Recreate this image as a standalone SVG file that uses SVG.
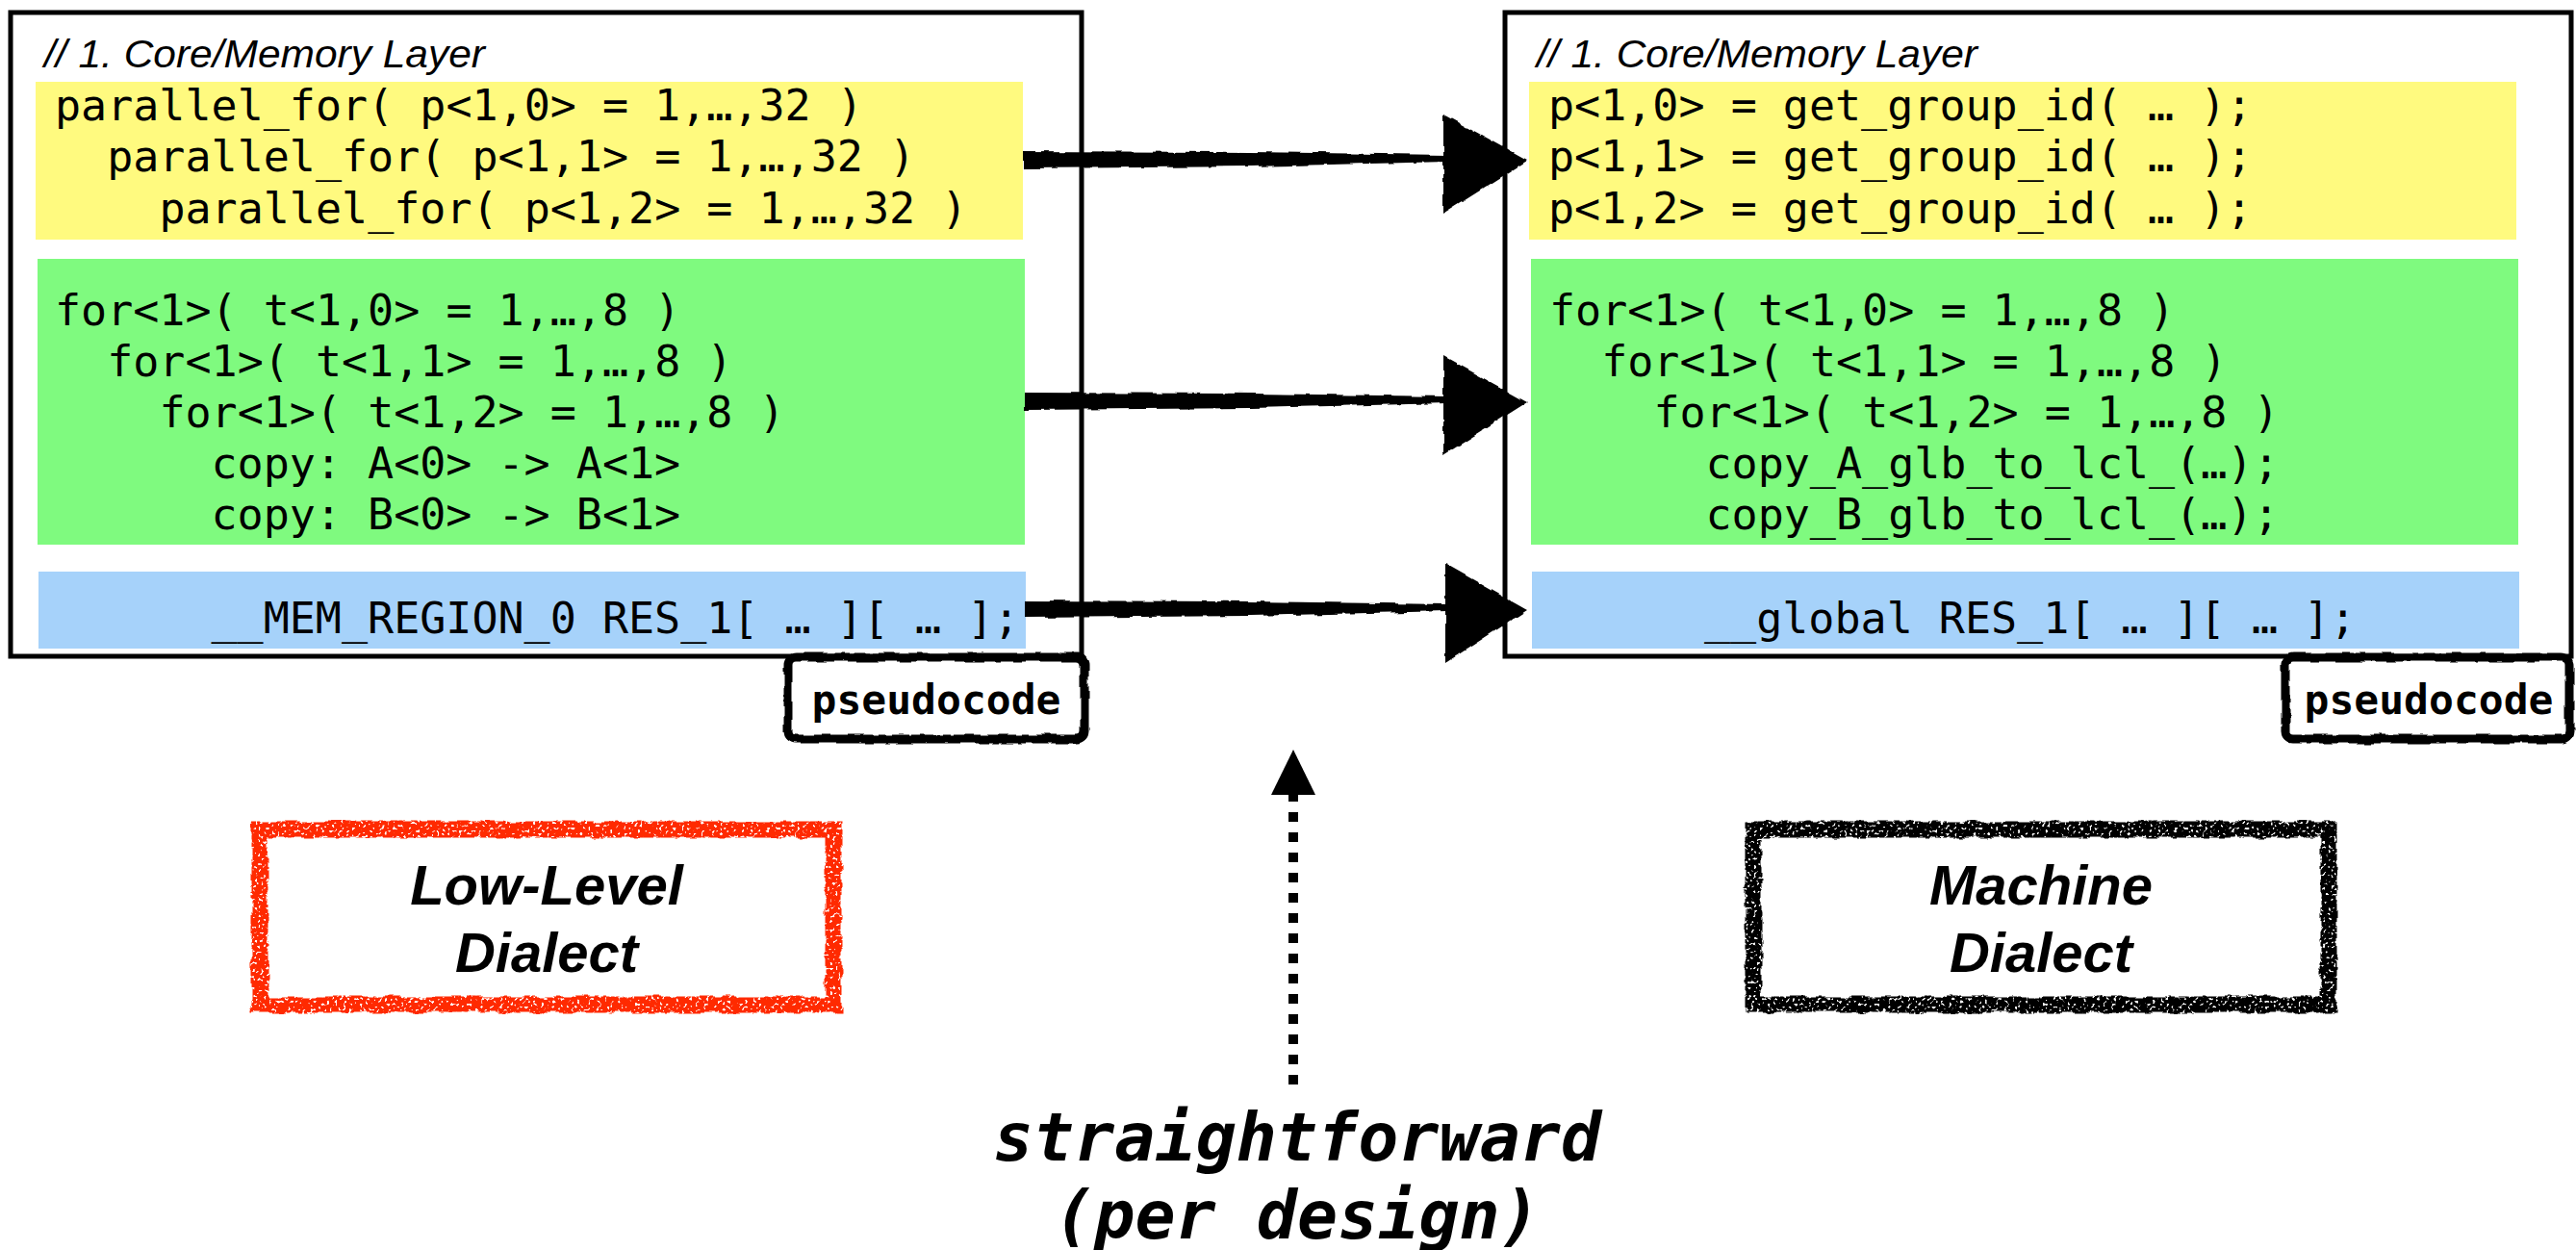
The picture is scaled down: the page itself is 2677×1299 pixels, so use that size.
<svg xmlns="http://www.w3.org/2000/svg" width="2677" height="1299" viewBox="0 0 2677 1299">
<style>
.panel{fill:#fff;stroke:#000;stroke-width:5}
.yel{fill:#FFFA7F}
.grn{fill:#7FFA7F}
.blu{fill:#A6D2FA}
.code{font-family:"DejaVu Sans Mono","Liberation Mono",monospace;font-size:45px;fill:#000}
.cmt{font-family:"Liberation Sans",Arial,sans-serif;font-style:italic;font-size:41px;fill:#000}
.tag{fill:#fff;stroke:#000;stroke-width:9}
.tagtxt{font-family:"DejaVu Sans Mono","Liberation Mono",monospace;font-weight:bold;font-size:43px;fill:#000;text-anchor:middle}
.dial{font-family:"Liberation Sans",Arial,sans-serif;font-weight:bold;font-style:italic;font-size:58px;fill:#000;text-anchor:middle}
.sf{font-family:"DejaVu Sans Mono","Liberation Mono",monospace;font-weight:bold;font-style:italic;font-size:70px;fill:#000;text-anchor:middle}
</style>
<defs>
<filter id="rough" x="-10%" y="-10%" width="120%" height="120%">
<feTurbulence type="fractalNoise" baseFrequency="0.06" numOctaves="2" seed="4" result="n"/>
<feDisplacementMap in="SourceGraphic" in2="n" scale="5" xChannelSelector="R" yChannelSelector="G"/>
</filter>
<filter id="grunge" x="-5%" y="-5%" width="110%" height="110%">
<feTurbulence type="fractalNoise" baseFrequency="0.07" numOctaves="2" seed="9" result="n"/>
<feDisplacementMap in="SourceGraphic" in2="n" scale="7" xChannelSelector="R" yChannelSelector="G" result="d"/>
<feTurbulence type="fractalNoise" baseFrequency="0.35" numOctaves="1" seed="2" result="s"/>
<feColorMatrix in="s" type="matrix" values="0 0 0 0 0  0 0 0 0 0  0 0 0 0 0  -12 0 0 0 8.2" result="m"/>
<feComposite in="d" in2="m" operator="in"/>
</filter>
</defs>

<g id="left-panel">
<rect class="panel" x="11" y="13" width="1113" height="669"/>
<text class="cmt" x="46" y="70" textLength="458" lengthAdjust="spacingAndGlyphs">// 1. Core/Memory Layer</text>
<rect class="yel" x="37" y="85" width="1026" height="164"/>
<rect class="grn" x="39" y="269" width="1026" height="297"/>
<rect class="blu" x="40" y="594" width="1026" height="80"/>
<text class="code" x="57" y="125">parallel_for( p&lt;1,0&gt; = 1,…,32 )</text>
<text class="code" x="111.2" y="178">parallel_for( p&lt;1,1&gt; = 1,…,32 )</text>
<text class="code" x="165.4" y="232">parallel_for( p&lt;1,2&gt; = 1,…,32 )</text>
<text class="code" x="57" y="338">for&lt;1&gt;( t&lt;1,0&gt; = 1,…,8 )</text>
<text class="code" x="111.2" y="391">for&lt;1&gt;( t&lt;1,1&gt; = 1,…,8 )</text>
<text class="code" x="165.4" y="444">for&lt;1&gt;( t&lt;1,2&gt; = 1,…,8 )</text>
<text class="code" x="219.5" y="497">copy: A&lt;0&gt; -&gt; A&lt;1&gt;</text>
<text class="code" x="219.5" y="550">copy: B&lt;0&gt; -&gt; B&lt;1&gt;</text>
<text class="code" x="219.5" y="658">__MEM_REGION_0 RES_1[ … ][ … ];</text>
</g>

<g id="left-tag">
<rect class="tag" x="819" y="683" width="308" height="85" rx="8" filter="url(#rough)"/>
<text class="tagtxt" x="973" y="742">pseudocode</text>
</g>

<g id="right-panel">
<rect class="panel" x="1564" y="13" width="1108" height="669"/>
<text class="cmt" x="1597" y="70" textLength="458" lengthAdjust="spacingAndGlyphs">// 1. Core/Memory Layer</text>
<rect class="yel" x="1589" y="85" width="1026" height="164"/>
<rect class="grn" x="1591" y="269" width="1026" height="297"/>
<rect class="blu" x="1592" y="594" width="1026" height="80"/>
<text class="code" x="1609" y="125">p&lt;1,0&gt; = get_group_id( … );</text>
<text class="code" x="1609" y="178">p&lt;1,1&gt; = get_group_id( … );</text>
<text class="code" x="1609" y="232">p&lt;1,2&gt; = get_group_id( … );</text>
<text class="code" x="1610" y="338">for&lt;1&gt;( t&lt;1,0&gt; = 1,…,8 )</text>
<text class="code" x="1664.2" y="391">for&lt;1&gt;( t&lt;1,1&gt; = 1,…,8 )</text>
<text class="code" x="1718.4" y="444">for&lt;1&gt;( t&lt;1,2&gt; = 1,…,8 )</text>
<text class="code" x="1772.5" y="497">copy_A_glb_to_lcl_(…);</text>
<text class="code" x="1772.5" y="550">copy_B_glb_to_lcl_(…);</text>
<text class="code" x="1771" y="658">__global RES_1[ … ][ … ];</text>
</g>

<g id="right-tag">
<rect class="tag" x="2375" y="683" width="295" height="85" rx="8" filter="url(#rough)"/>
<text class="tagtxt" x="2524" y="742">pseudocode</text>
</g>

<g id="low-level-dialect">
<rect x="270" y="862" width="596" height="182" fill="#fff" stroke="#FF2A00" stroke-width="17" filter="url(#grunge)"/>
<text class="dial" x="568" y="940">Low-Level</text>
<text class="dial" x="568" y="1010">Dialect</text>
</g>

<g id="machine-dialect">
<rect x="1822" y="862" width="598" height="182" fill="#fff" stroke="#000" stroke-width="17" filter="url(#grunge)"/>
<text class="dial" x="2121" y="940">Machine</text>
<text class="dial" x="2121" y="1010">Dialect</text>
</g>

<g id="connectors">
<g filter="url(#rough)" fill="#000">
<polygon points="1063,157 1300,158 1505,161 1505,168 1300,173 1063,175"/>
<polygon points="1500,119 1587,167 1500,222"/>
<polygon points="1065,408 1300,409 1505,412 1505,419 1300,424 1065,426"/>
<polygon points="1500,370 1587,418 1500,473"/>
<polygon points="1065,624 1300,625 1505,628 1505,635 1300,640 1065,642"/>
<polygon points="1502,586 1587,634 1502,689"/>
</g>
<line x1="1344" y1="1127" x2="1344" y2="822" stroke="#000" stroke-width="10" stroke-dasharray="10 11"/>
<polygon points="1344,779 1321,826 1367,826" fill="#000"/>
</g>

<g id="label-straightforward">
<text class="sf" x="1348" y="1206">straightforward</text>
<text class="sf" x="1348" y="1287">(per design)</text>
</g>
</svg>
